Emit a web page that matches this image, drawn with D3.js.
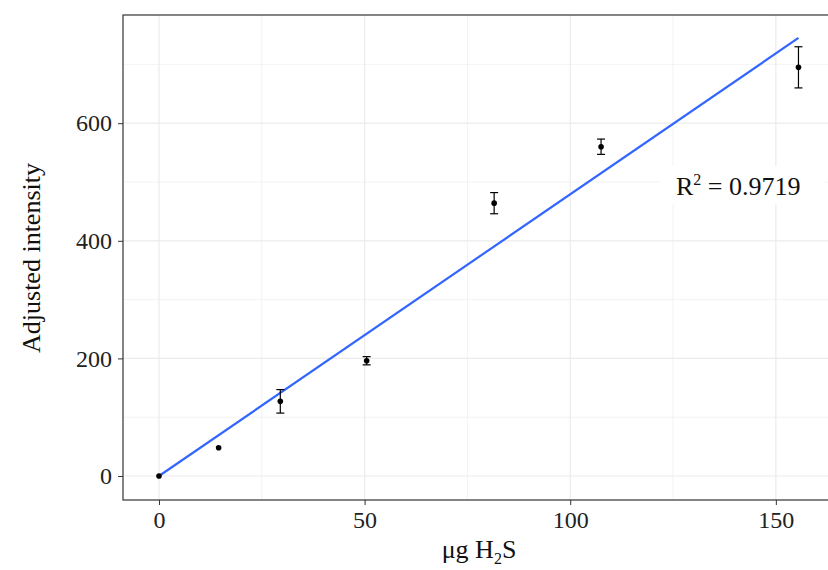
<!DOCTYPE html>
<html><head><meta charset="utf-8">
<script src="https://cdn.jsdelivr.net/npm/d3@7"></script>
<style>body{margin:0;background:#fff}text{font-family:"Liberation Serif",serif}</style>
</head><body><svg id="c" width="828" height="570"></svg>
<script>
var xs = [0, 14.5, 29.5, 50.5, 81.5, 107.5, 155.5];
var ys = [0, 48, 127, 196, 464, 560, 695];
var errs = [0, 2, 20, 7, 18, 13, 35];
var fit = [[0, 0], [155.5, 745]];
var xTicks = [0, 50, 100, 150], yTicks = [0, 200, 400, 600];

var svg = d3.select("#c");
var L = 123, R = 840, T = 15, B = 500;
var x = d3.scaleLinear().domain([-8.75, 165.6]).range([L, R]);
var y = d3.scaleLinear().domain([-40.8, 784]).range([B, T]);

var g = svg.append("g");
// grid
var minorX = [25, 75, 125], minorY = [100, 300, 500, 700];
g.selectAll(".gx").data(xTicks.concat(minorX)).enter().append("line")
  .attr("x1", x).attr("x2", x).attr("y1", T).attr("y2", B)
  .attr("stroke", "#ebebeb").attr("stroke-width", function(d){return xTicks.includes(d)?1.2:0.6;});
g.selectAll(".gy").data(yTicks.concat(minorY)).enter().append("line")
  .attr("y1", y).attr("y2", y).attr("x1", L).attr("x2", R)
  .attr("stroke", "#ebebeb").attr("stroke-width", function(d){return yTicks.includes(d)?1.2:0.6;});
g.append("rect").attr("x", L).attr("y", T).attr("width", R - L).attr("height", B - T)
  .attr("fill", "none").attr("stroke", "#333").attr("stroke-width", 1.2);

// fit line
svg.append("path").attr("d", d3.line().x(function(d){return x(d[0]);}).y(function(d){return y(d[1]);})(fit))
  .attr("stroke", "#3366ff").attr("stroke-width", 2.2).attr("fill", "none");

// error bars + points
var pts = xs.map(function(v, i){return {x: v, y: ys[i], e: errs[i]};});
var eb = svg.append("g").attr("stroke", "#000").attr("stroke-width", 1.2);
pts.filter(function(d){return d.e > 3;}).forEach(function(d){
  eb.append("line").attr("x1", x(d.x)).attr("x2", x(d.x)).attr("y1", y(d.y - d.e)).attr("y2", y(d.y + d.e));
  [d.y - d.e, d.y + d.e].forEach(function(v){
    eb.append("line").attr("x1", x(d.x) - 4).attr("x2", x(d.x) + 4).attr("y1", y(v)).attr("y2", y(v));
  });
});
svg.selectAll("circle").data(pts).enter().append("circle")
  .attr("cx", function(d){return x(d.x);}).attr("cy", function(d){return y(d.y);}).attr("r", 2.8).attr("fill", "#000");

// R2 label
svg.append("rect").attr("x", 660).attr("y", 166).attr("width", 165).attr("height", 38).attr("fill", "#fff");
var t = svg.append("text").attr("x", 676).attr("y", 195).attr("font-size", 26).attr("fill", "#111");
t.append("tspan").text("R");
t.append("tspan").attr("font-size", 16).attr("dy", -10).text("2");
t.append("tspan").attr("dy", 10).text(" = 0.9719");

// axes
var xa = svg.append("g").attr("transform", "translate(0," + B + ")")
  .call(d3.axisBottom(x).tickValues(xTicks).tickSize(5).tickPadding(6));
var ya = svg.append("g").attr("transform", "translate(" + L + ",0)")
  .call(d3.axisLeft(y).tickValues(yTicks).tickSize(5).tickPadding(6));
[xa, ya].forEach(function(a){
  a.select(".domain").remove();
  a.selectAll("line").attr("stroke", "#333");
  a.selectAll("text").attr("font-size", 24).attr("fill", "#222").style("font-family", "Liberation Serif");
});

var xl = svg.append("text").attr("x", 479).attr("y", 558).attr("text-anchor", "middle").attr("font-size", 26).attr("fill", "#111");
xl.append("tspan").text("μg H");
xl.append("tspan").attr("font-size", 16).attr("dy", 6).text("2");
xl.append("tspan").attr("dy", -6).text("S");
svg.append("text").attr("transform", "translate(40,258) rotate(-90)").attr("text-anchor", "middle")
  .attr("font-size", 26).attr("fill", "#111").text("Adjusted intensity");
</script></body></html>
